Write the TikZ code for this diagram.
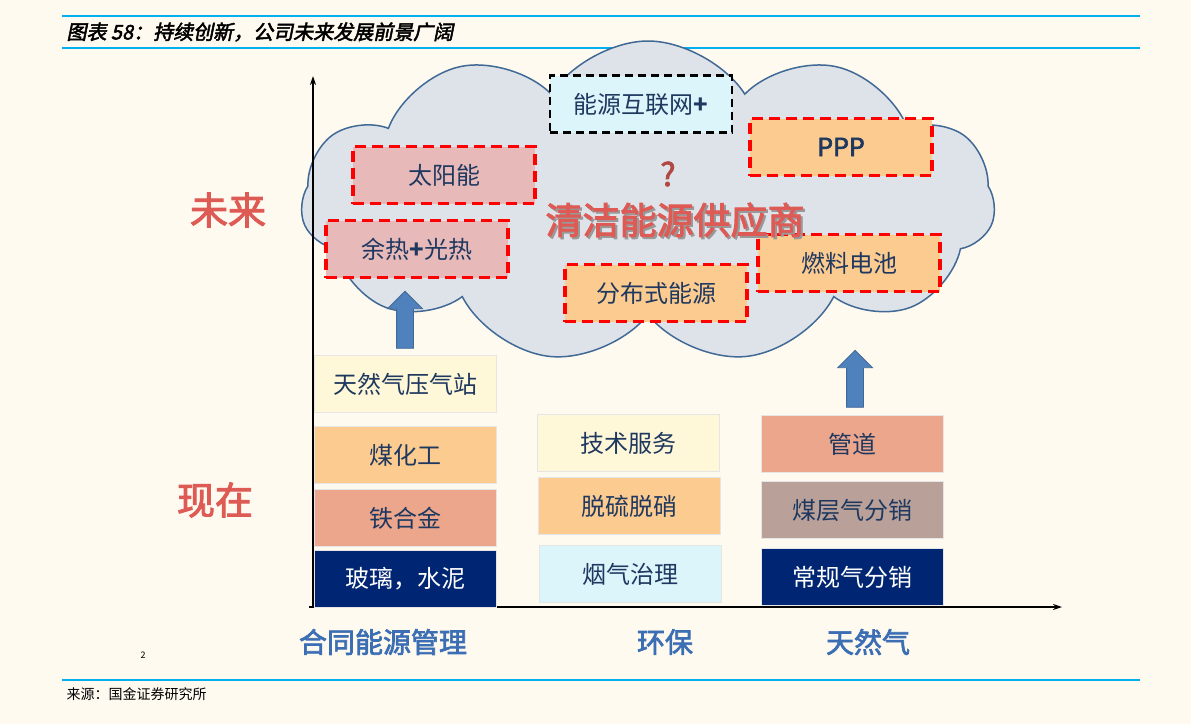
\documentclass[tikz,border=0pt]{standalone}
\usepackage{fontspec}
\setmainfont{Noto Sans CJK SC}
\newfontfamily\titlefont[FakeSlant=0.2,FakeBold=2.5]{Noto Sans CJK SC}
\newfontfamily\boldfont[FakeBold=2.5]{Noto Sans CJK SC}
\usetikzlibrary{shapes.symbols, shapes.arrows, arrows.meta, positioning}
\definecolor{paper}{RGB}{254,250,240}
\definecolor{ruleCyan}{RGB}{0,176,240}
\definecolor{cloudFill}{RGB}{221,227,233}
\definecolor{cloudLine}{RGB}{65,105,150}
\definecolor{textNavy}{RGB}{31,56,96}
\definecolor{boxYellow}{RGB}{255,248,216}
\definecolor{boxOrange}{RGB}{251,203,143}
\definecolor{boxSalmon}{RGB}{236,166,140}
\definecolor{boxNavy}{RGB}{0,38,115}
\definecolor{boxCyan}{RGB}{220,245,251}
\definecolor{boxMauve}{RGB}{185,161,153}
\definecolor{boxPink}{RGB}{231,185,184}
\definecolor{dashRed}{RGB}{255,0,0}
\definecolor{labelRed}{RGB}{222,90,85}
\definecolor{labelBlue}{RGB}{60,110,180}
\definecolor{arrowBlue}{RGB}{79,129,189}
\tikzstyle{tag}=[rectangle, minimum width=182pt, minimum height=57pt, inner sep=0pt, text=textNavy, font=\fontsize{24}{24}\selectfont]
\tikzstyle{now}=[tag, draw=white!80!gray, line width=0.8pt]
\tikzstyle{future}=[tag, draw=dashRed, line width=3.5pt, dash pattern=on 11pt off 6pt]
\tikzstyle{uparrow}=[single arrow, shape border rotate=90, fill=arrowBlue, draw=cloudLine, line width=0.8pt, minimum height=57pt, minimum width=34pt, inner sep=8pt, single arrow head extend=9pt]
\tikzstyle{stage}=[text=labelRed, font=\boldfont\fontsize{38}{38}\selectfont]
\tikzstyle{field}=[text=labelBlue, font=\boldfont\fontsize{28}{28}\selectfont]
\tikzstyle{axis}=[line width=1.4pt, -{Stealth[length=9pt, width=6pt]}]

\begin{document}
\begin{tikzpicture}[x=1pt, y=-1pt]
				\useasboundingbox[fill=paper] (0,0) rectangle (1191,724);

				% Header and footer rules
				\draw[ruleCyan, line width=1.2pt] (62,16) -- (1140,16);
				\draw[ruleCyan, line width=1.2pt] (62,48) -- (1140,48);
				\draw[ruleCyan, line width=1.2pt] (62,680) -- (1140,680);
				\node[anchor=west, font=\titlefont\fontsize{20}{20}\selectfont] (title) at (63,32) {图表 58：持续创新，公司未来发展前景广阔};
				\node[anchor=west, font=\fontsize{14}{14}\selectfont] (source) at (63,694) {来源：国金证券研究所};
				\node[font=\fontsize{9}{9}\selectfont] (page) at (143,655) {2};

				% The cloud of future business
				\node[cloud, cloud puffs=11, cloud puff arc=115, cloud ignores aspect, minimum width=694pt, minimum height=322pt, fill=cloudFill, draw=cloudLine, line width=1.5pt] (cloud) at (648,202) {};

				% Axes
				\coordinate (origin) at (313,607);
				\coordinate (ytop) at (313,76);
				\coordinate (xend) at (1062,607);
				\draw[axis] (309,607) -- (xend);
				\draw[axis] (origin) -- (ytop);

				% Future: inside the cloud
				\node[tag, fill=boxCyan, draw=black, line width=2.8pt, dash pattern=on 8pt off 5pt] (web) at (641,104) {能源互联网\textbf{+}};
				\node[future, fill=boxOrange, font=\boldfont\fontsize{25}{25}\selectfont] (ppp) at (841,147) {PPP};
				\node[future, fill=boxPink] (solar) at (444,175) {太阳能};
				\node[future, fill=boxPink] (heat) at (417,249) {余热\textbf{+}光热};
				\node[future, fill=boxOrange] (dist) at (656,293) {分布式能源};
				\node[future, fill=boxOrange] (fuel) at (849,263) {燃料电池};
				\node[text=labelRed!80!black, font=\boldfont\fontsize{32}{32}\selectfont] (ask) at (668,174) {?};
				\node[text=black!40, font=\boldfont\fontsize{37}{37}\selectfont] (supplyShade) at (677,222) {清洁能源供应商};
				\node[text=labelRed, font=\boldfont\fontsize{37}{37}\selectfont] (supply) at (675,220) {清洁能源供应商};

				% Present: stacked business lines
				\node[now, fill=boxYellow] (station) at (405,384) {天然气压气站};
				\node[now, fill=boxOrange] (coal) at (405,455) {煤化工};
				\node[now, fill=boxSalmon] (alloy) at (405,518) {铁合金};
				\node[now, fill=boxNavy, text=white] (glass) at (405,579) {玻璃，水泥};

				\node[now, fill=boxYellow] (tech) at (628,443) {技术服务};
				\node[now, fill=boxOrange] (desulf) at (629,506) {脱硫脱硝};
				\node[now, fill=boxCyan] (flue) at (630,574) {烟气治理};

				\node[now, fill=boxSalmon] (pipe) at (852,444) {管道};
				\node[now, fill=boxMauve] (cbm) at (852,510) {煤层气分销};
				\node[now, fill=boxNavy, text=white] (gas) at (852,577) {常规气分销};

				% Upgrade arrows
				\node[uparrow] (upL) at (405,324) {};
				\node[uparrow] (upR) at (855,383) {};

				% Axis labels
				\node[stage] (future) at (228,210) {未来};
				\node[stage] (present) at (215,500) {现在};
				\foreach \name/\x/\txt in {emc/383/合同能源管理, eco/665/环保, ng/868/天然气}{
					\node[field] (\name) at (\x,642) {\txt};
				}
			\end{tikzpicture}
\end{document}
